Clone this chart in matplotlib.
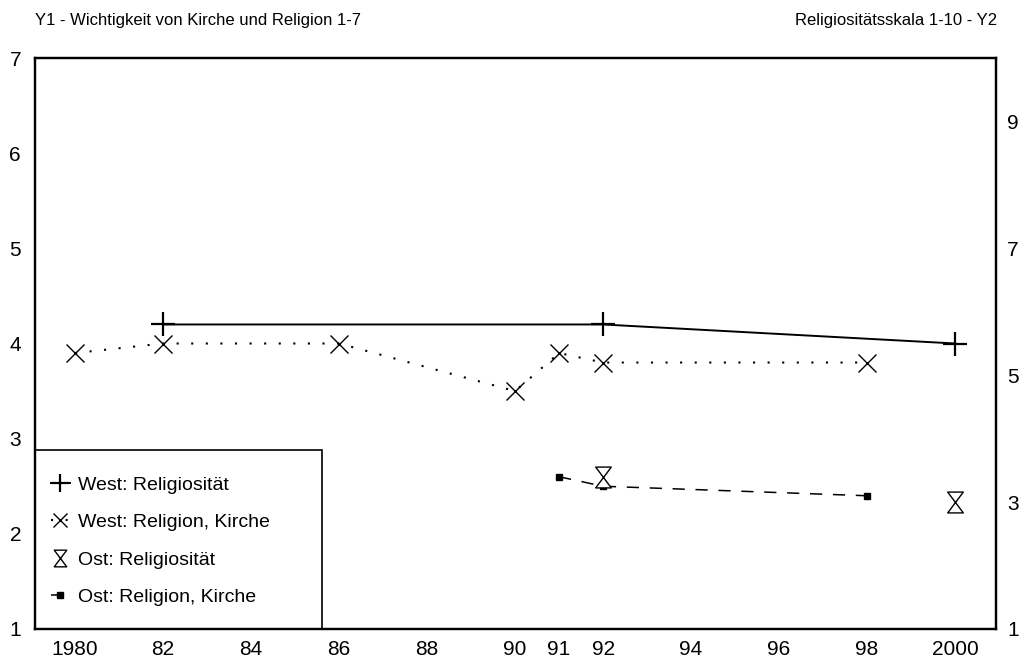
import matplotlib.pyplot as plt
from matplotlib.path import Path
from matplotlib.patches import Rectangle
import numpy as np

plt.rcParams['font.family'] = ['Liberation Sans', 'DejaVu Sans']

# x axis: survey years
tick_years = [1980, 1982, 1984, 1986, 1988, 1990, 1991, 1992, 1994, 1996, 1998, 2000]
tick_labels = ['1980', '82', '84', '86', '88', '90', '91', '92', '94', '96', '98', '2000']

# right axis (Religiositaetsskala 1-10)
west_rel_years = [1982, 1992, 2000]
west_rel_vals = [5.8, 5.8, 5.5]
ost_rel_years = [1992, 2000]
ost_rel_vals = [3.4, 3.0]

# left axis (Wichtigkeit von Kirche und Religion 1-7)
west_kir_years = [1980, 1982, 1986, 1990, 1991, 1992, 1998]
west_kir_vals = [3.9, 4.0, 4.0, 3.5, 3.9, 3.8, 3.8]
ost_kir_years = [1991, 1992, 1998]
ost_kir_vals = [2.6, 2.5, 2.4]

# hourglass marker
hourglass = Path([(-0.75, 1), (0.75, 1), (-0.75, -1), (0.75, -1), (-0.75, 1)],
                 [Path.MOVETO, Path.LINETO, Path.LINETO, Path.LINETO, Path.CLOSEPOLY])

fig = plt.figure(figsize=(10.2, 6.61), dpi=100)
ax = fig.add_axes([35/1020, 1-629/661, (996-35)/1020, (629-58)/661])
ax2 = ax.twinx()

l2, = ax.plot(west_kir_years, west_kir_vals, color='black', lw=1.5,
              linestyle=(0, (1, 6)), marker='x', markersize=13, mew=1.0,
              label='West: Religion, Kirche')
l4, = ax.plot(ost_kir_years, ost_kir_vals, color='black', lw=1.1,
              linestyle=(0, (8, 7)), marker='s', markersize=5,
              label='Ost: Religion, Kirche')
l1, = ax2.plot(west_rel_years, west_rel_vals, color='black', lw=1.4,
               marker='+', markersize=17, mew=1.6, label='West: Religiosität')
l3, = ax2.plot(ost_rel_years, ost_rel_vals, color='black', lw=0,
               marker=hourglass, markersize=15, mew=1.0, markerfacecolor='white',
               label='Ost: Religiosität')

ax.set_xlim(1979.09, 2000.93)
ax.set_ylim(1, 7)
ax2.set_ylim(1, 10)
ax.set_xticks(tick_years)
ax.set_xticklabels(tick_labels)
ax.set_yticks([1, 2, 3, 4, 5, 6, 7])
ax2.set_yticks([1, 3, 5, 7, 9])

ax.tick_params(axis='x', length=0, pad=8, labelsize=15)
ax.tick_params(axis='y', length=0, pad=10, labelsize=15)
ax2.tick_params(axis='y', length=0, pad=8, labelsize=15)
for a in (ax, ax2):
    for s in a.spines.values():
        s.set_linewidth(1.6)

# legend box
ax.add_patch(Rectangle((0, 0), (322-35)/961, (629-450)/571, transform=ax.transAxes,
                       fill=False, lw=1.2, edgecolor='black', zorder=5))
ax2.legend(handles=[l1, l2, l3, l4], loc='center left', frameon=False,
           bbox_to_anchor=(0.0, (629-541)/571), fontsize=14, handlelength=1.0,
           handletextpad=0.4, labelspacing=1.02, borderpad=0.3, markerscale=0.8,
           numpoints=1)

fig.text(35/1020, 1-20/661, 'Y1 - Wichtigkeit von Kirche und Religion 1-7',
         ha='left', va='center', fontsize=12)
fig.text(997/1020, 1-20/661, 'Religiositätsskala 1-10 - Y2',
         ha='right', va='center', fontsize=12)

fig.savefig('out.png', dpi=100)
